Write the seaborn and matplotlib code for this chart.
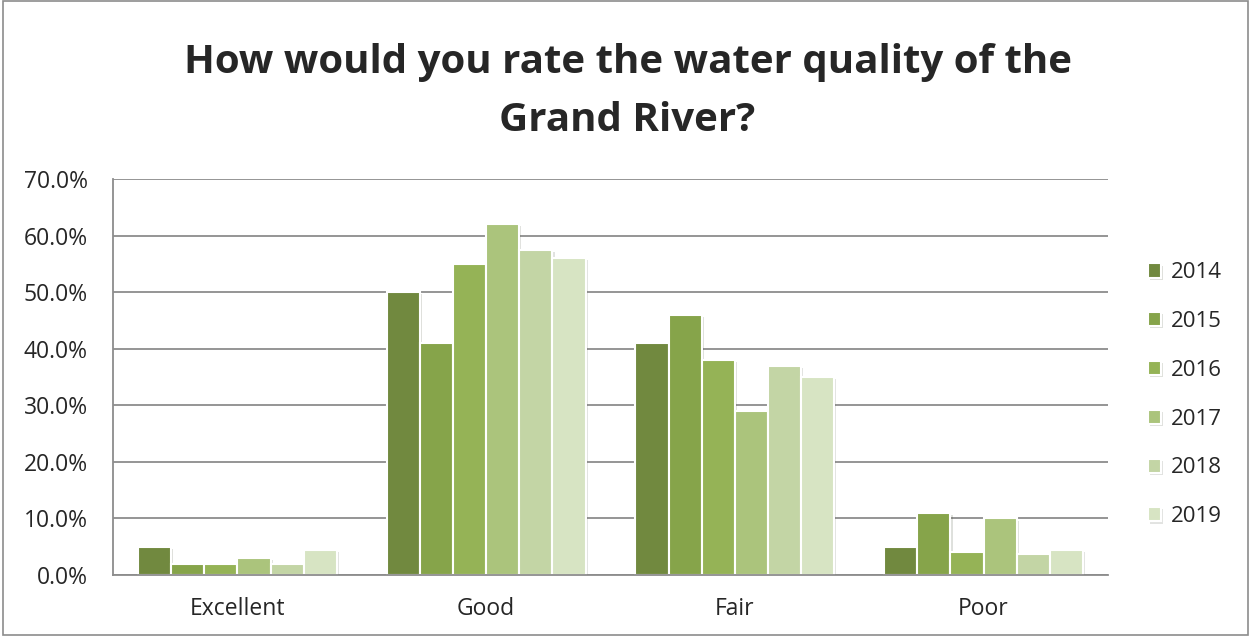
import pandas as pd
import seaborn as sns
import matplotlib.pyplot as plt
from matplotlib.patches import Rectangle
import matplotlib.patheffects as pe
from matplotlib.ticker import FuncFormatter

categories = ["Excellent", "Good", "Fair", "Poor"]
years = ["2014", "2015", "2016", "2017", "2018", "2019"]
values = {
    "2014": [5.0, 50.0, 41.0, 5.0],
    "2015": [2.0, 41.0, 46.0, 11.0],
    "2016": [2.0, 55.0, 38.0, 4.0],
    "2017": [3.0, 62.0, 29.0, 10.0],
    "2018": [2.0, 57.5, 37.0, 3.7],
    "2019": [4.5, 56.0, 35.0, 4.5],
}
colors = ["#71893f", "#86a44a", "#95b356", "#abc47c", "#c3d5a5", "#d7e4c3"]

rows = []
for y in years:
    for c, v in zip(categories, values[y]):
        rows.append({"rating": c, "year": y, "pct": v})
df = pd.DataFrame(rows)

sns.set_style("white")
plt.rcParams["font.family"] = ["Open Sans", "DejaVu Sans"]

fig = plt.figure(figsize=(12.5, 6.36), dpi=100)
ax = fig.add_axes([0.0904, 0.0959, 0.7960, 0.6227])

sns.barplot(data=df, x="rating", y="pct", hue="year", order=categories,
            hue_order=years, palette=colors, width=0.8, saturation=1,
            edgecolor="white", linewidth=1.5, ax=ax, legend=True)

# soft shadow like the spreadsheet original
for p in ax.patches:
    p.set_path_effects([pe.SimplePatchShadow(offset=(1.5, -1.5), alpha=0.15), pe.Normal()])

ax.set_ylim(0, 70)
ax.set_xlim(-0.5, 3.5)
ax.set_yticks(range(0, 71, 10))
ax.yaxis.set_major_formatter(FuncFormatter(lambda v, _: f"{v:.1f}%"))
ax.yaxis.grid(True, color="#8c8c8c", linewidth=1.3)
ax.set_axisbelow(True)
ax.set_xlabel("")
ax.set_ylabel("")

ax.set_xticks([-0.5, 0.5, 1.5, 2.5, 3.5], minor=True)
ax.tick_params(axis="x", which="minor", length=7, color="#8c8c8c", width=1.3, direction="out")
ax.tick_params(axis="x", which="major", length=0, labelsize=16.5, pad=16)
ax.tick_params(axis="y", length=7, color="#8c8c8c", width=1.3, direction="out", labelsize=16.5, pad=11)

for s in ["top", "right"]:
    ax.spines[s].set_visible(False)
for s in ["left", "bottom"]:
    ax.spines[s].set_color("#8c8c8c")
    ax.spines[s].set_linewidth(1.3)

handles, labels = ax.get_legend_handles_labels()
ax.legend(handles, labels, loc="center left", bbox_to_anchor=(1.02, 0.455),
          frameon=False, fontsize=16, handlelength=0.6, handleheight=0.6,
          labelspacing=1.25, handletextpad=0.45)

fig.text(0.502, 0.902, "How would you rate the water quality of the",
         ha="center", va="center", fontsize=29, fontweight="bold")
fig.text(0.502, 0.811, "Grand River?",
         ha="center", va="center", fontsize=29, fontweight="bold")

fig.patches.append(Rectangle((0.002, 0.002), 0.996, 0.996, transform=fig.transFigure,
                             fill=False, edgecolor="#8c8c8c", linewidth=1.2))

fig.savefig("out.png", dpi=100)
